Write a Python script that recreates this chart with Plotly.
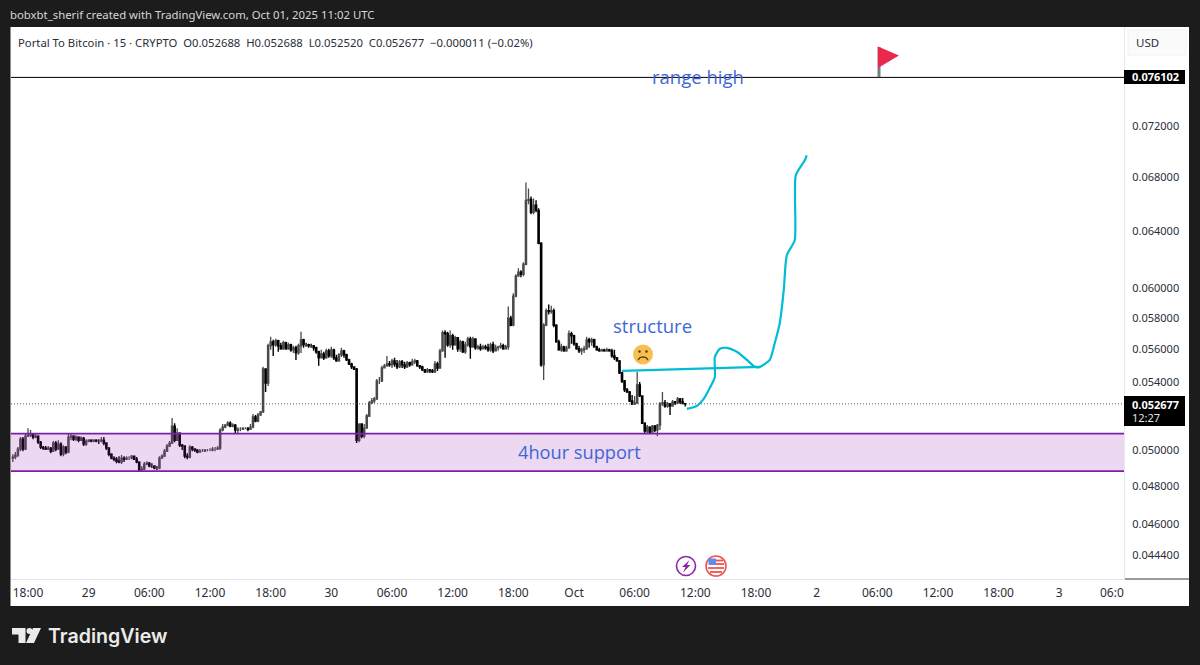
import math
import pandas as pd
import plotly.graph_objects as go

# ---------- data ----------
first_open = 0.04955
closes = [
 .04961,.04972,.05006,.05062,.05006,.05079,.05085,.05091,.05074,.05079,
 .05045,.05017,.05011,.05006,.05011,.04994,.05040,.05006,.05034,.04977,
 .05017,.04989,.05074,.05079,.05062,.05074,.05056,.05068,.05034,.05051,
 .05056,.05051,.05056,.05051,.05051,.05056,.05040,.05011,.04977,.04955,
 .04949,.04938,.04933,.04955,.04949,.04955,.04955,.04966,.04949,.04933,
 .04889,.04894,.04922,.04927,.04911,.04911,.04900,.04900,.04955,.04966,
 .04994,.05023,.05040,.05137,.05056,.05096,.05028,.05023,.04966,.04961,
 .05017,.05006,.05000,.04989,.04994,.04994,.05000,.05000,.05000,.05006,
 .05006,.05011,.05114,.05131,.05143,.05154,.05137,.05143,.05114,.05119,
 .05119,.05125,.05125,.05119,.05131,.05190,.05166,.05202,.05220,.05479,
 .05393,.05624,.05649,.05630,.05656,.05624,.05605,.05643,.05605,.05630,
 .05598,.05611,.05579,.05624,.05662,.05630,.05630,.05624,.05624,.05611,
 .05586,.05548,.05573,.05548,.05592,.05560,.05598,.05548,.05529,.05567,
 .05592,.05567,.05535,.05510,.05492,.05479,.05056,.05149,.05079,.05125,
 .05196,.05273,.05285,.05297,.05405,.05405,.05485,.05498,.05510,.05504,
 .05529,.05510,.05492,.05523,.05504,.05492,.05517,.05504,.05523,.05529,
 .05498,.05492,.05473,.05461,.05473,.05467,.05461,.05510,.05485,.05592,
 .05708,.05701,.05630,.05688,.05630,.05675,.05605,.05649,.05586,.05630,
 .05668,.05617,.05668,.05611,.05617,.05605,.05617,.05611,.05598,.05630,
 .05592,.05611,.05617,.05624,.05605,.05617,.05801,.05756,.05947,.06083,
 .06110,.06096,.06165,.06626,.06633,.06537,.06589,.06551,.06313,.05504,
 .05756,.05851,.05845,.05851,.05756,.05649,.05598,.05617,.05592,.05611,
 .05701,.05688,.05637,.05605,.05592,.05598,.05605,.05662,.05649,.05662,
 .05617,.05598,.05592,.05598,.05592,.05598,.05592,.05560,.05548,.05529,
 .05454,.05405,.05351,.05339,.05285,.05267,.05273,.05381,.05315,.05154,
 .05108,.05131,.05102,.05137,.05114,.05143,.05267,.05273,.05255,.05267,
 .05255,.05279,.05273,.05297,.05279,.052688,.052677]
highs = [
 .04977,.04989,.05017,.05074,.05074,.05091,.05125,.05114,.05096,.05091,
 .05085,.05051,.05023,.05023,.05023,.05017,.05051,.05051,.05056,.05045,
 .05028,.05023,.05091,.05091,.05085,.05085,.05079,.05079,.05074,.05062,
 .05062,.05062,.05062,.05062,.05062,.05074,.05074,.05045,.05017,.04983,
 .04966,.04961,.04966,.04972,.04966,.04966,.04966,.04972,.04966,.04961,
 .04938,.04911,.04933,.04938,.04933,.04927,.04916,.04911,.04966,.04977,
 .05006,.05034,.05051,.05184,.05154,.05125,.05102,.05034,.05028,.04983,
 .05028,.05023,.05011,.05006,.05006,.05006,.05006,.05006,.05011,.05017,
 .05017,.05023,.05125,.05149,.05149,.05166,.05166,.05154,.05149,.05131,
 .05131,.05131,.05131,.05131,.05149,.05208,.05202,.05214,.05226,.05492,
 .05479,.05637,.05681,.05662,.05668,.05662,.05643,.05656,.05649,.05643,
 .05637,.05624,.05624,.05637,.05714,.05668,.05643,.05637,.05637,.05624,
 .05617,.05592,.05598,.05586,.05605,.05605,.05617,.05605,.05567,.05579,
 .05611,.05598,.05573,.05542,.05517,.05492,.05485,.05154,.05149,.05149,
 .05208,.05285,.05303,.05309,.05417,.05430,.05498,.05510,.05560,.05529,
 .05542,.05548,.05535,.05535,.05535,.05523,.05529,.05523,.05542,.05542,
 .05535,.05504,.05498,.05479,.05485,.05479,.05479,.05529,.05523,.05605,
 .05721,.05723,.05714,.05721,.05701,.05688,.05662,.05662,.05656,.05649,
 .05681,.05681,.05681,.05624,.05630,.05637,.05630,.05630,.05637,.05643,
 .05649,.05630,.05624,.05643,.05637,.05630,.05878,.05818,.05967,.06096,
 .06137,.06124,.06179,.06761,.06715,.06655,.06640,.06626,.06566,.06320,
 .05769,.05865,.05891,.05884,.05865,.05762,.05662,.05637,.05624,.05624,
 .05721,.05714,.05695,.05643,.05624,.05611,.05624,.05681,.05675,.05675,
 .05668,.05624,.05611,.05605,.05605,.05611,.05605,.05605,.05598,.05554,
 .05535,.05461,.05411,.05363,.05345,.05321,.05315,.05461,.05399,.05315,
 .05160,.05143,.05137,.05143,.05143,.05149,.05279,.05339,.05291,.05279,
 .05273,.05291,.05285,.05309,.05303,.05303,.052688]
lows = [
 .04933,.04949,.04961,.04994,.04994,.05000,.05074,.05074,.05062,.05068,
 .05034,.05006,.05000,.05000,.05000,.04983,.04989,.04994,.05000,.04966,
 .04966,.04977,.04983,.05056,.05051,.05051,.05045,.05051,.05023,.05023,
 .05045,.05045,.05045,.05045,.05034,.05045,.05028,.05000,.04966,.04949,
 .04938,.04927,.04927,.04922,.04933,.04944,.04944,.04949,.04944,.04927,
 .04883,.04883,.04889,.04916,.04905,.04900,.04894,.04889,.04894,.04955,
 .04961,.04989,.05017,.05034,.05045,.05051,.05017,.05000,.04955,.04949,
 .04955,.04994,.04989,.04983,.04989,.04989,.04989,.04994,.04994,.04994,
 .04994,.05000,.05000,.05108,.05125,.05137,.05131,.05131,.05096,.05096,
 .05108,.05114,.05119,.05108,.05114,.05125,.05160,.05160,.05196,.05214,
 .05339,.05375,.05598,.05560,.05617,.05586,.05598,.05598,.05598,.05598,
 .05586,.05579,.05535,.05567,.05579,.05611,.05617,.05611,.05611,.05592,
 .05573,.05498,.05548,.05535,.05542,.05548,.05548,.05535,.05523,.05523,
 .05554,.05548,.05529,.05504,.05479,.05473,.05040,.05045,.05068,.05068,
 .05125,.05190,.05267,.05273,.05291,.05387,.05399,.05485,.05492,.05492,
 .05485,.05492,.05479,.05485,.05485,.05479,.05485,.05492,.05498,.05510,
 .05492,.05479,.05467,.05454,.05454,.05454,.05454,.05454,.05467,.05479,
 .05586,.05548,.05617,.05611,.05598,.05624,.05586,.05586,.05579,.05573,
 .05617,.05542,.05611,.05598,.05598,.05592,.05605,.05598,.05586,.05586,
 .05579,.05592,.05592,.05605,.05598,.05605,.05598,.05749,.05749,.05940,
 .06083,.06076,.06083,.06158,.06596,.06522,.06522,.06537,.06306,.05492,
 .05411,.05749,.05825,.05831,.05743,.05643,.05592,.05586,.05586,.05586,
 .05605,.05637,.05624,.05598,.05579,.05567,.05579,.05598,.05611,.05624,
 .05611,.05592,.05586,.05586,.05586,.05586,.05586,.05548,.05535,.05523,
 .05448,.05393,.05339,.05333,.05279,.05261,.05261,.05267,.05309,.05149,
 .05096,.05096,.05096,.05102,.05102,.05079,.05114,.05255,.05244,.05244,
 .05202,.05250,.05261,.05267,.05267,.05273,.052520]
assert len(closes) == len(highs) == len(lows) == 267

times = pd.date_range("2025-09-28 16:30", periods=len(closes), freq="15min")
opens = [first_open] + closes[:-1]

range_high = 0.076102
last_price = 0.052677
zone_top = 0.05094
zone_bottom = 0.04883

struct_t = ["2025-10-01 04:45", "2025-10-01 18:24"]
struct_p = [0.05467, 0.05492]
proj_t = ["2025-10-01 11:10","2025-10-01 12:09","2025-10-01 12:45","2025-10-01 13:26","2025-10-01 13:56",
          "2025-10-01 13:56","2025-10-01 14:26","2025-10-01 15:07","2025-10-01 16:06","2025-10-01 17:06",
          "2025-10-01 17:53","2025-10-01 18:24","2025-10-01 19:22","2025-10-01 19:52","2025-10-01 20:21",
          "2025-10-01 20:45","2025-10-01 21:03","2025-10-01 21:50","2025-10-01 21:56","2025-10-01 22:50",
          "2025-10-01 23:01"]
proj_p = [.05238,.05255,.05291,.05363,.05430,.05554,.05605,.05611,.05586,.05535,
          .05492,.05492,.05535,.05643,.05769,.05990,.06228,.06334,.06815,.06931,.06970]

price_ticks = [0.072, 0.068, 0.064, 0.060, 0.058, 0.056, 0.054, 0.050, 0.048, 0.046, 0.0444]
price_labels = ["0.072000","0.068000","0.064000","0.060000","0.058000","0.056000","0.054000",
                "0.050000","0.048000","0.046000","0.044400"]
time_ticks = ["2025-09-28 18:00","2025-09-29 00:00","2025-09-29 06:00","2025-09-29 12:00","2025-09-29 18:00",
              "2025-09-30 00:00","2025-09-30 06:00","2025-09-30 12:00","2025-09-30 18:00","2025-10-01 00:00",
              "2025-10-01 06:00","2025-10-01 12:00","2025-10-01 18:00","2025-10-02 00:00","2025-10-02 06:00",
              "2025-10-02 12:00","2025-10-02 18:00","2025-10-03 00:00"]
time_labels = ["18:00","29","06:00","12:00","18:00","30","06:00","12:00","18:00","Oct",
               "06:00","12:00","18:00","2","06:00","12:00","18:00","3"]

header_text = "bobxbt_sherif created with TradingView.com, Oct 01, 2025 11:02 UTC"
legend_text = "Portal To Bitcoin · 15 · CRYPTO\u00a0\u00a0O0.052688\u00a0\u00a0H0.052688\u00a0\u00a0L0.052520\u00a0\u00a0C0.052677\u00a0\u00a0−0.000011 (−0.02%)"

# ---------- layout helpers (page pixels to paper fractions) ----------
L, R, T, B = 11, 1124, 27, 579
FONT = "Noto Sans"
def px(x): return (x - L) / (R - L)
def py(y): return (B - y) / (B - T)

shapes, annos = [], []
def rect(x0, y0, x1, y1, fill, line=None, lw=0, layer="above"):
    shapes.append(dict(type="rect", xref="paper", yref="paper", x0=px(x0), x1=px(x1), y0=py(y1), y1=py(y0),
                       fillcolor=fill, line=dict(color=line or fill, width=lw), layer=layer))
def seg(x0, y0, x1, y1, color, lw=1, layer="above"):
    shapes.append(dict(type="line", xref="paper", yref="paper", x0=px(x0), x1=px(x1), y0=py(y0), y1=py(y1),
                       line=dict(color=color, width=lw), layer=layer))
def circ(cx, cy, r, fill, line=None, lw=0):
    shapes.append(dict(type="circle", xref="paper", yref="paper", x0=px(cx-r), x1=px(cx+r), y0=py(cy+r), y1=py(cy-r),
                       fillcolor=fill, line=dict(color=line or fill, width=lw), layer="above"))
def poly(points, fill=None, line=None, lw=0, closed=True):
    d = "M " + " L ".join(f"{px(x):.5f} {py(y):.5f}" for x, y in points) + (" Z" if closed else "")
    shapes.append(dict(type="path", xref="paper", yref="paper", path=d, fillcolor=fill or "rgba(0,0,0,0)",
                       line=dict(color=line or "rgba(0,0,0,0)", width=lw), layer="above"))
def text(x, y, s, size=12, color="#2a2e39", anchor="left", family=FONT, weight=None):
    f = dict(family=family, size=size, color=color)
    if weight: f["weight"] = weight
    annos.append(dict(xref="paper", yref="paper", x=px(x), y=py(y), text=s, showarrow=False,
                      xanchor=anchor, yanchor="middle", font=f, borderpad=0, borderwidth=0))

# chart panel beyond plot area
rect(10.5, 27, 1189, 606, "#ffffff", layer="below")
seg(1124, 579, 1189, 579, "#7a7a7a", 1.5, layer="below")

# USD button
rect(1128, 30, 1186, 55, "#fbfbfb", "#f1f1f3", 1, layer="below")
text(1136, 42, "USD", 11.5)

# header, legend, branding
text(10, 15, header_text, 11.35, "#d6d6d6")
text(18, 42, legend_text, 11.3, "#2a2e39")
text(48, 636, "TradingView", 19.6, "#ebebeb", family="Inter", weight=600)

# TradingView mark
poly([(12, 628), (25.5, 628), (25.5, 643), (18.5, 643), (18.5, 634.5), (12, 634.5)], "#ebebeb")
circ(29.5, 631, 3, "#ebebeb")
poly([(33, 628), (41, 628), (34, 643), (26, 643)], "#ebebeb")

# zone
shapes.append(dict(type="rect", xref="paper", yref="y", x0=0, x1=1, y0=zone_bottom, y1=zone_top,
                   fillcolor="rgba(156,39,176,0.18)", line=dict(width=0), layer="above"))

# price labels
rect(1124, 70, 1185, 84, "#000000")
text(1155, 77, f"{range_high:.6f}", 11, "#ffffff", "center", weight=700)
rect(1124, 396, 1185, 426, "#000000")
text(1155, 404, f"{last_price:.6f}", 11, "#ffffff", "center", weight=700)
text(1132, 418, "12:27", 11, "#e4e4e4")

# clipped axis tick at the right edge
text(1124, 592, "06:0", 12, "#2a2e39", "right")

# drawing labels
text(698, 77, "range high", 18.5, "#3e66d6", "center", family="Open Sans")
text(652, 325.5, "structure", 18.5, "#3e66d6", "center", family="Open Sans")
text(579, 452, "4hour support", 18.2, "#3e66d6", "center", family="Open Sans")

# flag
rect(877.5, 47, 880.5, 77, "#787b86")
poly([(878, 46.5), (899, 55.5), (878, 68)], "#e8294c")

# emoji
circ(643, 354.5, 10, "#f6bf4f")
circ(639.5, 351.5, 1.3, "#5d3b12")
circ(646.5, 351.5, 1.3, "#5d3b12")
poly([(638, 360), (640, 357.6), (643, 356.8), (646, 357.6), (648, 360)], None, "#5d3b12", 1.3, closed=False)

# bottom icons
circ(686, 566, 9.5, "#ffffff", "#8e24aa", 1.6)
poly([(689.5, 560), (682, 567), (685.5, 567), (683, 572.5), (690.5, 565), (687, 565)], "#8e24aa")
circ(716, 566, 10, "#ffffff", "#ef5350", 1.6)
rect(708.5, 558.5, 716, 565, "#5b8def")
seg(716, 560.5, 723, 560.5, "#ef5350", 1.8)
seg(716, 564, 724, 564, "#ef5350", 1.8)
seg(708, 568, 724, 568, "#ef5350", 1.8)
seg(710, 572, 722, 572, "#ef5350", 1.8)

fig = go.Figure()
fig.add_trace(go.Candlestick(
    x=times, open=opens, high=highs, low=lows, close=closes, whiskerwidth=0,
    increasing=dict(line=dict(color="#4a4a4a", width=1.3), fillcolor="#8f8f8f"),
    decreasing=dict(line=dict(color="#000000", width=1.4), fillcolor="#000000"),
    showlegend=False, hoverinfo="skip"))

span = ["2025-09-28 16:19", "2025-10-03 06:24"]
def hline(value, color, width, dash="solid"):
    fig.add_trace(go.Scatter(x=span, y=[value, value], mode="lines", showlegend=False, hoverinfo="skip",
                             line=dict(color=color, width=width, dash=dash)))
hline(last_price, "#444444", 0.9, "1px,2px")
hline(zone_top, "#7b1fa2", 1.8)
hline(zone_bottom, "#7b1fa2", 1.8)
hline(range_high, "#000000", 1)
fig.add_trace(go.Scatter(x=struct_t, y=struct_p, mode="lines", showlegend=False, hoverinfo="skip",
                         line=dict(color="#00bcd4", width=2.2)))
fig.add_trace(go.Scatter(x=proj_t, y=proj_p, mode="lines", showlegend=False, hoverinfo="skip",
                         line=dict(color="#00bcd4", width=2.2, shape="spline", smoothing=0.6)))

fig.update_layout(
    width=1200, height=665, autosize=False,
    margin=dict(l=L, r=1200 - R, t=T, b=665 - B, pad=0),
    paper_bgcolor="#1c1c1c", plot_bgcolor="#ffffff",
    showlegend=False, dragmode=False, shapes=shapes, annotations=annos,
    font=dict(family=FONT, size=12, color="#2a2e39"),
    xaxis=dict(type="date", range=span, rangeslider=dict(visible=False), tickmode="array",
               tickvals=time_ticks, ticktext=time_labels, showgrid=False, zeroline=False,
               showline=True, linecolor="#e0e3eb", linewidth=1, ticks="outside", ticklen=3, tickcolor="#ffffff",
               tickfont=dict(family=FONT, size=12, color="#2a2e39")),
    yaxis=dict(type="log", range=[math.log10(0.04324), math.log10(0.08055)], side="right", tickmode="array",
               tickvals=price_ticks, ticktext=price_labels, showgrid=False, zeroline=False,
               showline=True, linecolor="#e8e9ee", linewidth=1, ticks="outside", ticklen=5, tickcolor="#ffffff",
               tickfont=dict(family=FONT, size=11, color="#2a2e39")),
)

fig.write_html("out.html", config=dict(displayModeBar=False),
               post_script="document.body.style.margin='0';document.documentElement.style.overflow='hidden';document.body.style.background='#1c1c1c';")
